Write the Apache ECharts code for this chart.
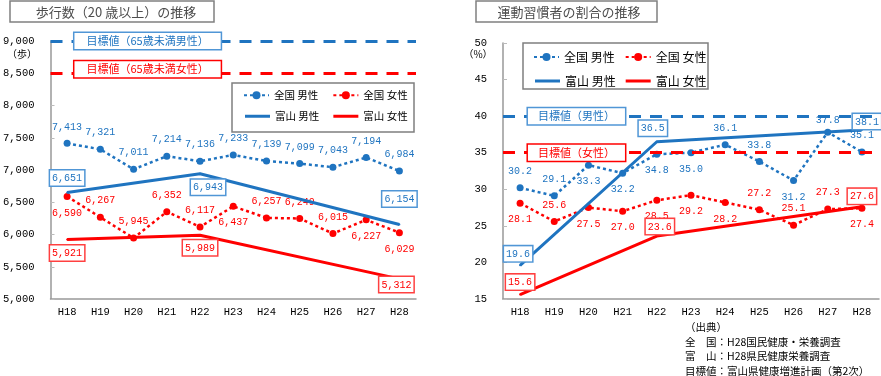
<!DOCTYPE html>
<html>
<head>
<meta charset="utf-8">
<title>歩行数・運動習慣者の推移</title>
<style>
  * { margin: 0; padding: 0; }
  html, body { width: 100%; height: 100%; background: #fff; }
</style>
</head>
<body>
<div id="main" style="width: 881px; height: 376px;"></div>
<script src="https://cdn.jsdelivr.net/npm/echarts@6/dist/echarts.min.js"></script>
<script>
// 年度
const years = ['H18', 'H19', 'H20', 'H21', 'H22', 'H23', 'H24', 'H25', 'H26', 'H27', 'H28'];

// 歩行数（20歳以上）
const walkZenkokuMale = [7413, 7321, 7011, 7214, 7136, 7233, 7139, 7099, 7043, 7194, 6984];
const walkZenkokuFemale = [6590, 6267, 5945, 6352, 6117, 6437, 6257, 6249, 6015, 6227, 6029];
const walkToyamaMale = [6651, null, null, null, 6943, null, null, null, null, null, 6154];
const walkToyamaFemale = [5921, null, null, null, 5989, null, null, null, null, null, 5312];
const walkTargetMale = 9000;
const walkTargetFemale = 8500;

// 運動習慣者の割合（%）
const exZenkokuMale = [30.2, 29.1, 33.3, 32.2, 34.8, 35.0, 36.1, 33.8, 31.2, 37.8, 35.1];
const exZenkokuFemale = [28.1, 25.6, 27.5, 27.0, 28.5, 29.2, 28.2, 27.2, 25.1, 27.3, 27.4];
const exToyamaMale = [19.6, null, null, null, 36.5, null, null, null, null, null, 38.1];
const exToyamaFemale = [15.6, null, null, null, 23.6, null, null, null, null, null, 27.6];
const exTargetMale = 40;
const exTargetFemale = 35;

// ラベル位置
const walkMalePos = ['top', 'top', 'top', 'top', 'top', 'top', 'top', 'top', 'top', 'top', 'top'];
const walkFemalePos = ['bottom', 'top', 'top', 'top', 'top', 'bottom', 'top', 'top', 'top', 'bottom', 'bottom'];
const exMalePos = ['top', 'top', 'bottom', 'bottom', 'bottom', 'bottom', 'top', 'top', 'bottom', 'top', 'top'];
const exFemalePos = ['bottom', 'top', 'bottom', 'bottom', 'bottom', 'bottom', 'bottom', 'top', 'top', 'top', 'bottom'];
// 個別の距離調整 (index -> distance)
const exMaleDist = { 9: 3 };

// 富山のラベル調整 (index -> label)
const walkToyamaMaleLbl = { 0: { position: 'top', distance: 6 }, 4: { position: 'bottom', distance: 5, offset: [8, 0] }, 10: { position: 'top', distance: 17 } };
const walkToyamaFemaleLbl = { 0: { position: 'bottom', distance: 5 }, 4: { position: 'bottom', distance: 4 }, 10: { position: 'bottom', distance: -3, offset: [-3, 0] } };
const exToyamaMaleLbl = { 0: { position: 'top', distance: 3, offset: [-2, 0] }, 4: { position: 'top', distance: 5, offset: [-4, 0] }, 10: { position: 'top', distance: 0, offset: [5, 0] } };
const exToyamaFemaleLbl = { 0: { position: 'top', distance: 4 }, 4: { position: 'top', distance: 1, offset: [3, 0] }, 10: { position: 'top', distance: 2 } };

const BLUE = '#1f74c0';
const RED = '#ff0000';
const BOX_BLUE = '#5096d6';
const BOX_RED = '#ff4040';
const NUM_FONT = 'Liberation Mono';
const JP_FONT = 'Noto Sans CJK JP';

const fmtWalk = v => v.toLocaleString('en-US');
const fmtEx = v => v.toFixed(1);

function withPos(values, pos, dist) {
    return values.map((v, i) => {
        const label = { position: pos[i] };
        if (dist && dist[i] != null) label.distance = dist[i];
        return { value: v, label: label };
    });
}
function withLbl(values, lbl) {
    return values.map((v, i) => lbl[i] ? { value: v, label: lbl[i] } : v);
}

function zenkoku(name, idx, color, data, fmt) {
    return {
        name: name, type: 'line', xAxisIndex: idx, yAxisIndex: idx,
        data: data,
        symbol: 'circle', symbolSize: 7,
        itemStyle: { color: color },
        lineStyle: { color: color, width: 2.5, type: [3, 3] },
        label: {
            show: true, distance: 8, color: color,
            fontFamily: NUM_FONT, fontSize: 10,
            formatter: p => fmt(p.value)
        },
        z: 3
    };
}
function toyama(name, idx, color, boxColor, data, fmt) {
    return {
        name: name, type: 'line', xAxisIndex: idx, yAxisIndex: idx,
        data: data, connectNulls: true,
        symbol: 'circle', symbolSize: 2,
        itemStyle: { color: color },
        lineStyle: { color: color, width: 3 },
        label: {
            show: true, color: color,
            fontFamily: NUM_FONT, fontSize: 10,
            backgroundColor: '#fff', borderColor: boxColor, borderWidth: 1.5,
            padding: [3, 2, 2, 2],
            formatter: p => p.value == null ? '' : fmt(p.value)
        },
        z: 4
    };
}
function targetLines(v1, v2) {
    return {
        silent: true, symbol: 'none',
        label: { show: false },
        lineStyle: { width: 3, type: [12, 9] },
        data: [
            { yAxis: v1, lineStyle: { color: BLUE } },
            { yAxis: v2, lineStyle: { color: RED } }
        ]
    };
}
function targetBox(name, coord, color, offset, pad) {
    return {
        name: name, coord: coord,
        symbol: 'rect', symbolSize: 1, itemStyle: { color: 'transparent' },
        label: {
            show: true, position: 'inside', offset: offset,
            formatter: '{b}', color: color,
            fontFamily: JP_FONT, fontSize: 11,
            backgroundColor: '#fff', borderColor: color === BLUE ? BOX_BLUE : color, borderWidth: 1.5,
            padding: pad
        }
    };
}

const xAxisBase = {
    type: 'category', data: years,
    axisLine: { lineStyle: { color: '#999', width: 1.5 } },
    axisTick: { length: 4, lineStyle: { color: '#999' } },
    axisLabel: { color: '#000', fontFamily: NUM_FONT, fontSize: 10.5, margin: 8 }
};
const yAxisBase = {
    type: 'value',
    splitLine: { show: false },
    axisLine: { show: true, lineStyle: { color: '#999', width: 1.5 } },
    axisTick: { show: true, inside: true, length: 4, lineStyle: { color: '#bbb' } },
    axisLabel: { color: '#000', fontFamily: NUM_FONT, fontSize: 10.5, margin: 16 }
};

const chart = echarts.init(document.getElementById('main'));

const walkMaleSeries = zenkoku('全国 男性', 0, BLUE, withPos(walkZenkokuMale, walkMalePos), fmtWalk);
walkMaleSeries.markLine = targetLines(walkTargetMale, walkTargetFemale);
walkMaleSeries.markPoint = {
    silent: true,
    data: [
        targetBox('目標値（65歳未満男性）', ['H20', walkTargetMale], BLUE, [14, 0], [3, 12, 2, 12]),
        targetBox('目標値（65歳未満女性）', ['H20', walkTargetFemale], RED, [14, -4], [3, 12, 2, 12])
    ]
};

const exMaleSeries = zenkoku('全国 男性', 1, BLUE, withPos(exZenkokuMale, exMalePos, exMaleDist), fmtEx);
exMaleSeries.markLine = targetLines(exTargetMale, exTargetFemale);
exMaleSeries.markPoint = {
    silent: true,
    data: [
        targetBox('目標値（男性）', ['H20', exTargetMale], BLUE, [-12, 0], [3, 10, 2, 10]),
        targetBox('目標値（女性）', ['H20', exTargetFemale], RED, [-12, 0], [3, 10, 2, 10])
    ]
};

function legendRow(names, left, top, fontSize, gap, solid) {
    const row = {
        data: names, left: left, top: top,
        itemWidth: 25, itemHeight: solid ? 3 : 10, itemGap: gap,
        selectedMode: false,
        textStyle: { color: '#000', fontFamily: JP_FONT, fontSize: fontSize }
    };
    if (solid) row.icon = 'rect';
    return row;
}

chart.setOption({
    animation: false,
    textStyle: { fontFamily: JP_FONT },
    grid: [
        { left: 45, top: 41, width: 371, height: 258 },
        { left: 503, top: 43, width: 376, height: 256 }
    ],
    xAxis: [
        Object.assign({ gridIndex: 0 }, xAxisBase),
        Object.assign({ gridIndex: 1 }, xAxisBase)
    ],
    yAxis: [
        Object.assign({}, yAxisBase, {
            gridIndex: 0, min: 5000, max: 9000, interval: 500,
            axisLabel: Object.assign({}, yAxisBase.axisLabel, { formatter: v => fmtWalk(v) })
        }),
        Object.assign({}, yAxisBase, {
            gridIndex: 1, min: 15, max: 50, interval: 5
        })
    ],
    legend: [
        legendRow(['全国 男性', '全国 女性'], 238, 85, 10.5, 14, false),
        legendRow(['富山 男性', '富山 女性'], 240, 106, 10.5, 14, true),
        legendRow(['全国 男性', '全国 女性'], 528, 46, 12, 10, false),
        legendRow(['富山 男性', '富山 女性'], 530, 70, 12, 10, true)
    ],
    graphic: [
        { type: 'rect', shape: { x: 10, y: 1, width: 204, height: 21 }, style: { fill: '#fff', stroke: '#808080', lineWidth: 1.5 } },
        { type: 'text', style: { text: '歩行数（20 歳以上）の推移', x: 116, y: 12, textAlign: 'center', textVerticalAlign: 'middle', font: '13px "Noto Sans CJK JP"', fill: '#4d4d4d' } },
        { type: 'rect', shape: { x: 476, y: 1, width: 181, height: 21 }, style: { fill: '#fff', stroke: '#808080', lineWidth: 1.5 } },
        { type: 'text', style: { text: '運動習慣者の割合の推移', x: 569, y: 12, textAlign: 'center', textVerticalAlign: 'middle', font: '13px "Noto Sans CJK JP"', fill: '#4d4d4d' } },
        { type: 'rect', z: -1, shape: { x: 232, y: 83, width: 182, height: 49 }, style: { fill: '#fff', stroke: '#7f7f7f', lineWidth: 1.5 } },
        { type: 'rect', z: -1, shape: { x: 523, y: 43, width: 185, height: 46 }, style: { fill: '#fff', stroke: '#7f7f7f', lineWidth: 1.5 } },
        { type: 'text', style: { text: '（歩）', x: 22, y: 54, textAlign: 'center', textVerticalAlign: 'middle', font: '10px "Noto Sans CJK JP"', fill: '#000' } },
        { type: 'text', style: { text: '（%）', x: 478, y: 54, textAlign: 'center', textVerticalAlign: 'middle', font: '10px "Noto Sans CJK JP"', fill: '#000' } },
        { type: 'text', style: { text: '（出典）\n全　国：H28国民健康・栄養調査\n富　山：H28県民健康栄養調査\n目標値：富山県健康増進計画（第2次）', x: 685, y: 320, lineHeight: 14.5, font: '10.5px "Noto Sans CJK JP"', fill: '#000' } }
    ],
    series: [
        walkMaleSeries,
        zenkoku('全国 女性', 0, RED, withPos(walkZenkokuFemale, walkFemalePos), fmtWalk),
        toyama('富山 男性', 0, BLUE, BOX_BLUE, withLbl(walkToyamaMale, walkToyamaMaleLbl), fmtWalk),
        toyama('富山 女性', 0, RED, BOX_RED, withLbl(walkToyamaFemale, walkToyamaFemaleLbl), fmtWalk),
        exMaleSeries,
        zenkoku('全国 女性', 1, RED, withPos(exZenkokuFemale, exFemalePos), fmtEx),
        toyama('富山 男性', 1, BLUE, BOX_BLUE, withLbl(exToyamaMale, exToyamaMaleLbl), fmtEx),
        toyama('富山 女性', 1, RED, BOX_RED, withLbl(exToyamaFemale, exToyamaFemaleLbl), fmtEx)
    ]
});
</script>
</body>
</html>
